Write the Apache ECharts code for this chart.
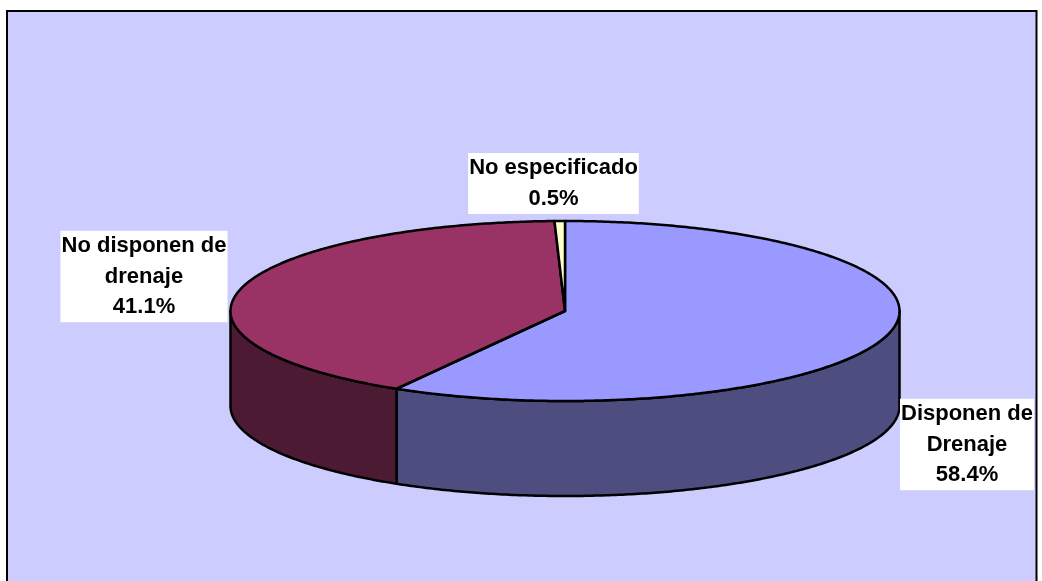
<!DOCTYPE html>
<html>
<head>
<meta charset="utf-8">
<style>html,body{margin:0;padding:0;background:#fff}#chart{width:1042px;height:581px}</style>
<script src="https://cdn.jsdelivr.net/npm/echarts@6/dist/echarts.min.js"></script>
</head>
<body>
<div id="chart"></div>
<script>
// Vivienda según disponibilidad de drenaje (porcentajes)
const categories = ['Disponen de\nDrenaje', 'No disponen de\ndrenaje', 'No especificado'];
const percentages = [58.4, 41.1, 0.5];
const topColors = ['#9999FF', '#993366', '#FFFFCC'];
const wallColors = ['#4D4D80', '#4D1A33', '#80806A'];

// Pie geometry: an ellipse seen in oblique view, plus the wall height
const cx = 565, cy = 311, rx = 334.5, ry = 90, depth = 95;
// Centre of each label box and the box padding
const labelCentres = [[967, 444.5], [144, 276.5], [553.5, 183.5]];
const labelPadding = [[0, 1], [0, 1], [0, 1]];
const edgeWidth = 2.5;

const total = percentages.reduce((a, b) => a + b, 0);
const starts = percentages.map((_, i) =>
  percentages.slice(0, i).reduce((a, b) => a + b, 0) / total * Math.PI * 2);

// Angles run clockwise from 12 o'clock
function rim(a, dy) {
  return [cx + rx * Math.sin(a), cy - ry * Math.cos(a) + dy];
}
function arc(a0, a1, dy) {
  const n = Math.max(2, Math.ceil((a1 - a0) / 0.01));
  const pts = [];
  for (let k = 0; k <= n; k++) pts.push(rim(a0 + (a1 - a0) * k / n, dy));
  return pts;
}

function renderTop(params, api) {
  const a0 = starts[params.dataIndex];
  const a1 = a0 + api.value(0) / total * Math.PI * 2;
  return {
    type: 'polygon',
    shape: { points: [[cx, cy]].concat(arc(a0, a1, 0)) },
    style: { fill: topColors[params.dataIndex], stroke: '#000', lineWidth: edgeWidth, lineJoin: 'round' }
  };
}

function renderWall(params, api) {
  // Only the front half of the rim (3 to 9 o'clock) shows a wall
  const a0 = Math.max(starts[params.dataIndex], Math.PI / 2);
  const a1 = Math.min(starts[params.dataIndex] + api.value(0) / total * Math.PI * 2, Math.PI * 1.5);
  if (a1 <= a0) return null;
  return {
    type: 'polygon',
    shape: { points: arc(a0, a1, 0).concat(arc(a0, a1, depth).reverse()) },
    style: { fill: wallColors[params.dataIndex], stroke: '#000', lineWidth: edgeWidth, lineJoin: 'round' }
  };
}

function renderLabel(params, api) {
  const i = params.dataIndex;
  const text = categories[i] + '\n' + api.value(0).toFixed(1) + '%';
  return {
    type: 'text',
    x: labelCentres[i][0],
    y: labelCentres[i][1],
    style: {
      text,
      align: 'center',
      verticalAlign: 'middle',
      fontFamily: '"Liberation Sans", Arial, sans-serif',
      fontWeight: 'bold',
      fontSize: 22,
      lineHeight: 30.5,
      fill: '#000',
      backgroundColor: '#fff',
      padding: labelPadding[i]
    }
  };
}

const seriesData = percentages.map(v => [v]);
const chart = echarts.init(document.getElementById('chart'), null, { renderer: 'canvas' });
chart.setOption({
  animation: false,
  backgroundColor: '#fff',
  graphic: [{
    type: 'rect',
    z: -10,
    shape: { x: 7, y: 11, width: 1029.5, height: 600 },
    style: { fill: '#CCCCFF', stroke: '#000', lineWidth: 2 }
  }],
  series: [
    { type: 'custom', coordinateSystem: 'none', renderItem: renderWall, data: seriesData, z: 2, silent: true },
    { type: 'custom', coordinateSystem: 'none', renderItem: renderTop, data: seriesData, z: 3, silent: true },
    { type: 'custom', coordinateSystem: 'none', renderItem: renderLabel, data: seriesData, z: 4, silent: true }
  ]
});
</script>
</body>
</html>
